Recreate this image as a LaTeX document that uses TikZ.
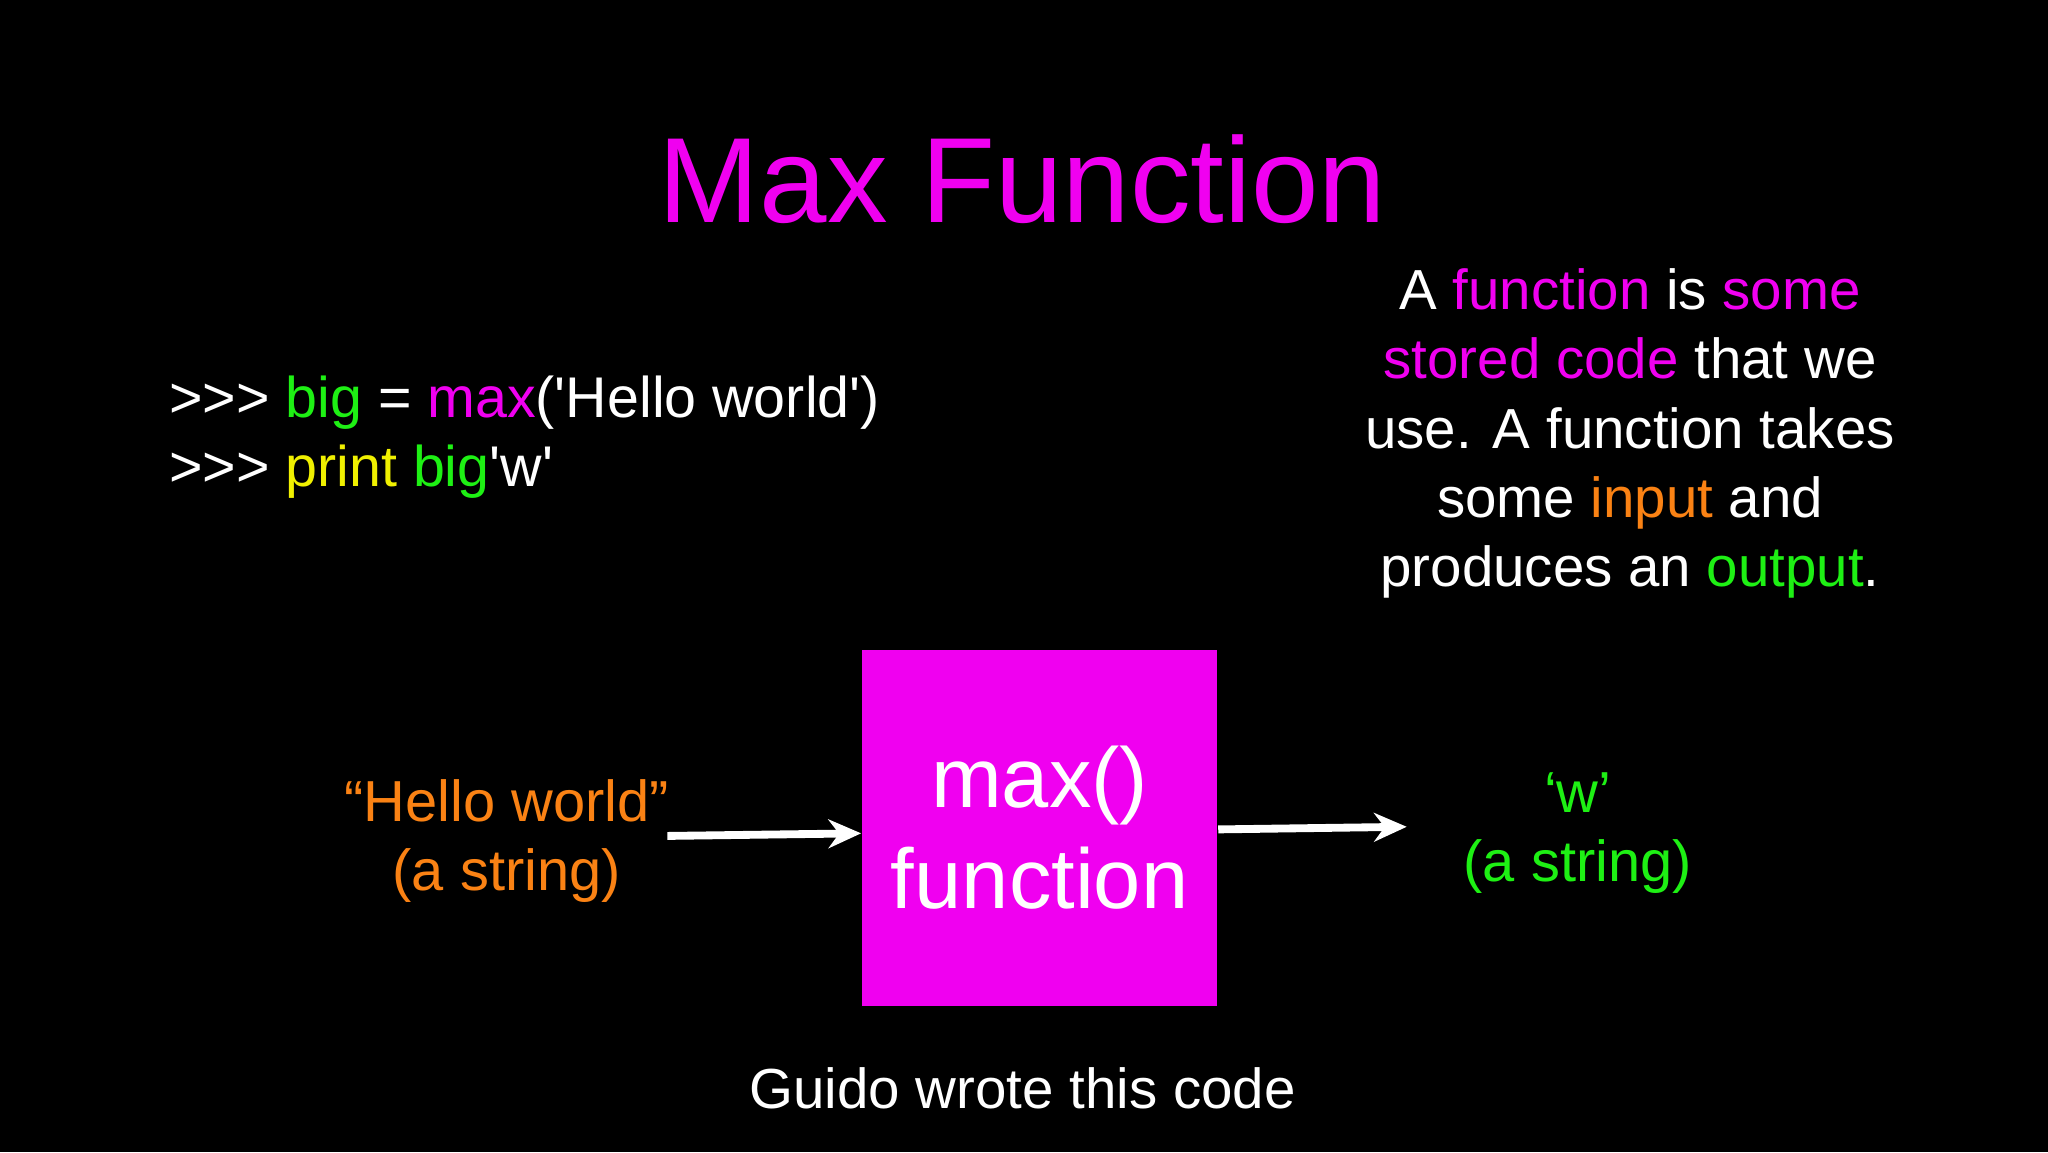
\documentclass[tikz,border=0pt]{standalone}
\usepackage{fontspec}
\setmainfont{Liberation Sans}[Ligatures=TeXOff]
\usetikzlibrary{positioning,arrows.meta}
\definecolor{mag}{RGB}{240,0,240}
\definecolor{org}{RGB}{250,130,20}
\definecolor{grn}{RGB}{30,240,20}
\definecolor{ylw}{RGB}{240,240,0}
\tikzset{arrow/.style={line width=0.06cm,white,-{Stealth[length=0.25cm,width=0.22cm]}},
  txt/.style={text=white,font=\fontsize{12.3}{15.1}\selectfont,align=center},
  box/.style={rectangle,fill=mag,minimum width=2.72cm,minimum height=2.72cm,text=white,align=center,
    font=\fontsize{18.5}{22}\selectfont}}
\begin{document}
\begin{tikzpicture}[x=1cm,y=1cm]
\fill[black] (0,0) rectangle (15.68,8.82);
\useasboundingbox (0,0) rectangle (15.68,8.82);
\node (title) at (7.83,7.45) [text=mag,font=\fontsize{26.4}{30}\selectfont] {Max Function};
\node (code) at (1.17,5.47) [txt,anchor=west,align=left,font=\fontsize{12.5}{15}\selectfont]
  {>>> \textcolor{grn}{big} = \textcolor{mag}{max}('Hello world')\\
   >>> \textcolor{ylw}{print} \textcolor{grn}{big}'w'};
\node (def) at (12.48,5.5) [txt]
  {A \textcolor{mag}{function} is \textcolor{mag}{some}\\
   \textcolor{mag}{stored code} that we\\
   use. A function takes\\
   some \textcolor{org}{input} and\\
   produces an \textcolor{grn}{output}.};
\node (maxbox) at (7.96,2.48) [box] {max()\\function};
\node (inp) at (3.88,2.38) [txt,text=org,font=\fontsize{12.6}{15.1}\selectfont] {“Hello world”\\(a string)};
\node (outp) at (12.08,2.44) [txt,text=grn,font=\fontsize{12.6}{15.1}\selectfont] {‘w’\\(a string)};
\node (guido) at (7.83,0.49) [txt] {Guido wrote this code};
\draw [arrow] (5.11,2.42) -- (maxbox.west |- 0,2.44);
\draw [arrow] (maxbox.east |- 0,2.47) -- (10.77,2.49);
\end{tikzpicture}
\end{document}
